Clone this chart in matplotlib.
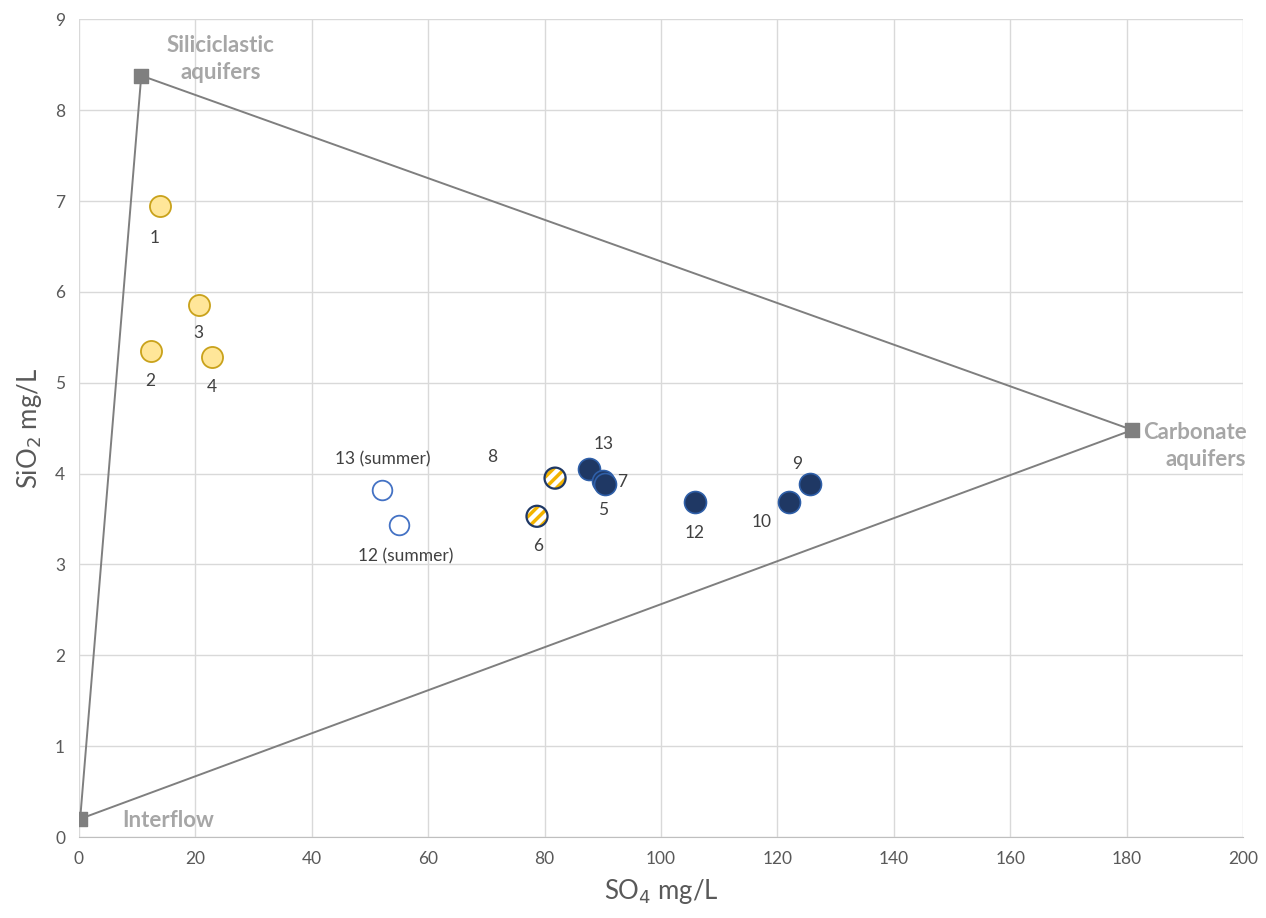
import matplotlib.pyplot as plt
import numpy as np

# end-members of the mixing triangle
em_names = ["Interflow", "Siliciclastic\naquifers", "Carbonate\naquifers"]
em_so4 = [0.2, 10.7, 181.0]
em_sio2 = [0.2, 8.38, 4.48]

# springs draining siliciclastic rocks
sil_labels = ["1", "2", "3", "4"]
sil_so4 = [13.9, 12.4, 20.6, 22.9]
sil_sio2 = [6.94, 5.35, 5.85, 5.28]

# mixed springs
mix_labels = ["6", "8"]
mix_so4 = [78.7, 81.8]
mix_sio2 = [3.53, 3.95]

# springs draining carbonate rocks
carb_labels = ["13", "7", "5", "12", "10", "9"]
carb_so4 = [87.6, 90.0, 90.4, 105.8, 122.0, 125.6]
carb_sio2 = [4.05, 3.92, 3.88, 3.69, 3.69, 3.88]

# summer sampling
summer_labels = ["13 (summer)", "12 (summer)"]
summer_so4 = [52.1, 55.0]
summer_sio2 = [3.82, 3.43]

# label offsets in pixels
offsets = {
    "1": (-5, -32), "2": (-1, -30), "3": (-1, -28), "4": (0, -30),
    "13 (summer)": (1, 31), "12 (summer)": (7, -31),
    "8": (-63, 21), "6": (1, -30),
    "13": (15, 25), "7": (19, -1), "5": (-2, -26),
    "12": (0, -31), "10": (-27, -20), "9": (-13, 20),
}

plt.rcParams['font.family'] = ['Lato', 'DejaVu Sans']
plt.rcParams['hatch.linewidth'] = 2.5

fig = plt.figure(figsize=(12.66, 9.18), dpi=100)
ax = fig.add_axes([0.0624, 0.0882, 0.9194, 0.8908])

# triangle
tri_x = em_so4 + [em_so4[0]]
tri_y = em_sio2 + [em_sio2[0]]
ax.plot(tri_x, tri_y, color="#7f7f7f", linewidth=1.4, zorder=3)
ax.scatter(em_so4, em_sio2, marker="s", s=110, color="#7f7f7f", zorder=4)

txt_kw = dict(color="#a6a6a6", fontsize=16, fontweight="bold", linespacing=1.35)
ax.annotate(em_names[0], (em_so4[0], em_sio2[0]), xytext=(42, -2),
            textcoords="offset pixels", ha="left", va="center", **txt_kw)
ax.annotate(em_names[1], (em_so4[1], em_sio2[1]), xytext=(79, 17),
            textcoords="offset pixels", ha="center", va="center",
            multialignment="center", **txt_kw)
ax.annotate(em_names[2], (em_so4[2], em_sio2[2]), xytext=(114, -16),
            textcoords="offset pixels", ha="right", va="center",
            multialignment="right", **txt_kw)

ax.scatter(sil_so4, sil_sio2, s=230, facecolor="#ffe699", edgecolor="#c9a21b",
           linewidth=1.3, zorder=5)
ax.scatter(summer_so4, summer_sio2, s=200, facecolor="white", edgecolor="#4472c4",
           linewidth=1.3, zorder=5)
ax.scatter(mix_so4, mix_sio2, s=230, facecolor="white", edgecolor="#f2b300",
           hatch="///", linewidth=0, zorder=5)
ax.scatter(mix_so4, mix_sio2, s=230, facecolor="none", edgecolor="#1f3864",
           linewidth=1.6, zorder=6)
ax.scatter(carb_so4, carb_sio2, s=250, facecolor="#1f3864", edgecolor="#2f5fa8",
           linewidth=1.2, zorder=5)

for labels, xs, ys in [(sil_labels, sil_so4, sil_sio2),
                       (mix_labels, mix_so4, mix_sio2),
                       (carb_labels, carb_so4, carb_sio2),
                       (summer_labels, summer_so4, summer_sio2)]:
    for lab, x, y in zip(labels, xs, ys):
        ax.annotate(lab, (x, y), xytext=offsets[lab], textcoords="offset pixels",
                    ha="center", va="center", fontsize=12.5, color="#404040", zorder=7)

ax.set_xlim(0, 200)
ax.set_ylim(0, 9)
ax.set_xticks(np.arange(0, 201, 20))
ax.set_yticks(np.arange(0, 10, 1))
ax.grid(True, color="#d9d9d9", linewidth=1.0, zorder=0)
ax.set_axisbelow(True)
for side in ["top", "right", "left"]:
    ax.spines[side].set_visible(False)
ax.spines["bottom"].set_color("#bfbfbf")
ax.tick_params(length=0, labelsize=12.5, labelcolor="#595959", pad=10)

ax.set_xlabel("SO$_4$ mg/L", fontsize=18.5, color="#595959", labelpad=7)
ax.set_ylabel("SiO$_2$ mg/L", fontsize=18.5, color="#595959", labelpad=8)

fig.savefig("out.png", dpi=100)
